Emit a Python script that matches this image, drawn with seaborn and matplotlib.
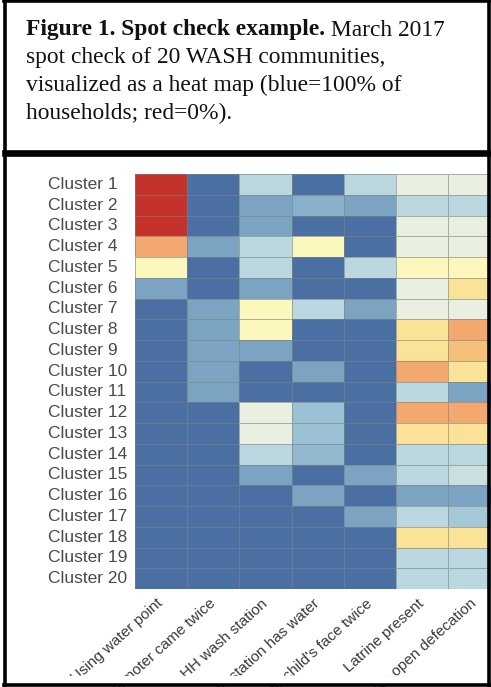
import matplotlib
matplotlib.use("Agg")
import matplotlib.pyplot as plt
from matplotlib.colors import LinearSegmentedColormap
from matplotlib.patches import Rectangle
from matplotlib.lines import Line2D
import seaborn as sns
import pandas as pd

# -----------------------------
# Data: % of households per cluster and indicator
# -----------------------------
clusters = [f"Cluster {i}" for i in range(1, 21)]

indicators = ["Using water point", "Promoter came twice", "HH wash station",
              "Wash station has water", "Washed child's face twice",
              "Latrine present", "No open defecation"]

using_water_point = [0, 0, 0, 20, 45, 82, 100, 100, 100, 100,
                     100, 100, 100, 100, 100, 100, 100, 100, 100, 100]
promoter_came_twice = [100, 100, 100, 82, 100, 100, 82, 82, 82, 82,
                       82, 100, 100, 100, 100, 100, 100, 100, 100, 100]
hh_wash_station = [65, 82, 82, 65, 65, 82, 45, 45, 82, 100,
                   100, 55, 55, 65, 82, 100, 100, 100, 100, 100]
station_has_water = [100, 78, 100, 45, 100, 100, 65, 100, 100, 82,
                     100, 72, 72, 75, 100, 82, 100, 100, 100, 100]
washed_face_twice = [65, 82, 100, 100, 65, 100, 82, 100, 100, 100,
                     100, 100, 100, 100, 82, 100, 82, 100, 100, 100]
latrine_present = [55, 65, 55, 55, 45, 55, 55, 35, 35, 20,
                   65, 20, 35, 65, 65, 82, 65, 35, 65, 65]
no_open_defecation = [55, 65, 55, 55, 45, 35, 55, 20, 27, 35,
                      82, 20, 35, 65, 62, 82, 70, 35, 65, 65]

df = pd.DataFrame({
    indicators[0]: using_water_point,
    indicators[1]: promoter_came_twice,
    indicators[2]: hh_wash_station,
    indicators[3]: station_has_water,
    indicators[4]: washed_face_twice,
    indicators[5]: latrine_present,
    indicators[6]: no_open_defecation,
}, index=clusters)

# red = 0%, blue = 100%
cmap = LinearSegmentedColormap.from_list("spot", [
    (0.00, "#c5322b"), (0.20, "#f2a86f"), (0.27, "#f6c07a"),
    (0.35, "#fae396"), (0.45, "#fcf7bc"), (0.55, "#e9f0e1"),
    (0.65, "#bbd8e0"), (0.72, "#9cc2d4"), (0.82, "#7ba4c2"),
    (1.00, "#4a6fa3")])

# -----------------------------
# Figure
# -----------------------------
W, H = 491, 687
fig = plt.figure(figsize=(W / 100, H / 100), dpi=100)
fig.patch.set_facecolor("white")

def fx(px):
    return px / W

def fy(py):
    return 1 - py / H

ax = fig.add_axes([fx(135), fy(589), 365.5 / W, 415 / H])
sns.heatmap(df, cmap=cmap, vmin=0, vmax=100, cbar=False, ax=ax,
            linewidths=0.7, linecolor=(0.5, 0.5, 0.5, 0.6))
ax.tick_params(length=0)
ax.set_yticklabels(clusters, rotation=0, fontsize=12.5, color="#4a4a4a",
                   family="Liberation Sans", ha="left")
ax.tick_params(axis="y", pad=(135 - 48) * 0.72)
ax.set_xticklabels(indicators, rotation=42, ha="right", va="center",
                   rotation_mode="anchor", fontsize=11,
                   color="#3a3a3a", family="Liberation Sans")
ax.tick_params(axis="x", pad=9)

# caption
serif = "Liberation Serif"
fs = 16.9
y0 = 35.5
step = 27.7
t1 = fig.text(fx(26), fy(y0), "Figure 1. Spot check example.", fontsize=fs,
              fontweight="bold", family=serif, va="baseline", color="#111111")
fig.canvas.draw()
bb = t1.get_window_extent(renderer=fig.canvas.get_renderer())
fig.text(bb.x1 / W, fy(y0), " March 2017", fontsize=fs, family=serif,
         va="baseline", color="#111111")
rest = ["spot check of 20 WASH communities,",
        "visualized as a heat map (blue=100% of",
        "households; red=0%)."]
for i, line in enumerate(rest):
    fig.text(fx(26), fy(y0 + step * (i + 1)), line, fontsize=fs, family=serif,
             va="baseline", color="#111111")

# white strip clipping the x labels, then box borders
fig.add_artist(Rectangle((0, fy(684)), 1, fy(676) - fy(684),
                         transform=fig.transFigure, color="white", zorder=20))
lw = 2.6
for seg in [((4.5, 4.5), (0.5, 686)), ((488.5, 488.5), (0.5, 686)),
            ((4, 489), (1, 1)), ((4, 489), (151.5, 151.5)),
            ((4, 489), (154.5, 154.5)), ((4, 489), (685, 685))]:
    xs, ys = seg
    fig.add_artist(Line2D([fx(x) for x in xs], [fy(y) for y in ys],
                          transform=fig.transFigure, color="black",
                          lw=lw, zorder=30))

plt.savefig("out.png", dpi=100)
